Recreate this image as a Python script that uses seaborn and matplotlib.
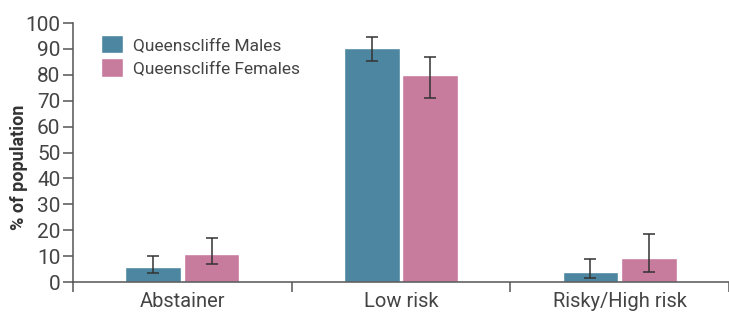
import matplotlib
matplotlib.use("Agg")
import matplotlib.pyplot as plt
import seaborn as sns
import numpy as np
import pandas as pd

categories = ["Abstainer", "Low risk", "Risky/High risk"]
groups = ["Queenscliffe Males", "Queenscliffe Females"]
males = [5.8, 90.3, 3.8]
females = [10.8, 80.0, 9.3]
males_lo = [3.5, 85.5, 1.5]
males_hi = [10.0, 94.5, 9.0]
females_lo = [7.0, 71.0, 4.0]
females_hi = [17.0, 87.0, 18.5]
colors = ["#4D86A0", "#C77B9D"]

sns.set_style("white")
plt.rcParams["font.family"] = ["Roboto", "DejaVu Sans"]

df = pd.DataFrame({
    "category": categories * 2,
    "group": [groups[0]] * 3 + [groups[1]] * 3,
    "value": males + females,
})

fig = plt.figure(figsize=(7.29, 3.13), dpi=100)
ax = fig.add_axes([0.1001, 0.099, 0.8999, 0.8275])

sns.barplot(data=df, x="category", y="value", hue="group", order=categories,
            hue_order=groups, palette=colors, width=0.536, gap=0.05,
            saturation=1, errorbar=None, ax=ax)

# error bars drawn by hand, the source gives ranges not raw data
lows = [males_lo, females_lo]
highs = [males_hi, females_hi]
for cont, lo, hi in zip(ax.containers, lows, highs):
    xs = [p.get_x() + p.get_width() / 2 for p in cont.patches]
    ys = [(l + h) / 2 for l, h in zip(lo, hi)]
    err = [(h - l) / 2 for l, h in zip(lo, hi)]
    ax.errorbar(xs, ys, yerr=err, fmt="none", ecolor="#333333",
                elinewidth=1.1, capsize=4.3, capthick=1.1)

ax.set_ylim(0, 100)
ax.set_xlim(-0.5, 2.485)
ax.set_yticks(np.arange(0, 101, 10))
ax.set_xticks([-0.5, 0.5, 1.5, 2.5])
ax.set_xticklabels([])
ax.set_xticks([0, 1, 2], minor=True)
ax.set_xticklabels(categories, minor=True, fontsize=14.5, color="#444444")
ax.tick_params(axis="x", which="minor", length=0, pad=7)
ax.tick_params(axis="x", which="major", length=7, width=1.1, color="#555555",
               direction="out", bottom=True)
ax.tick_params(axis="y", length=7, width=1.1, color="#555555", left=True,
               labelsize=15, labelcolor="#444444", pad=2)

for s in ["top", "right"]:
    ax.spines[s].set_visible(False)
for s in ["left", "bottom"]:
    ax.spines[s].set_color("#555555")
    ax.spines[s].set_linewidth(1.1)
ax.spines["left"].set_bounds(0, 100)

ax.set_xlabel("")
ax.set_ylabel("% of population", fontsize=13, fontweight="bold", color="#333333")
ax.yaxis.set_label_coords(-0.068, 0.444)

ax.legend(loc="upper left", bbox_to_anchor=(0.043, 0.954), frameon=False,
          fontsize=12.5, handlelength=1.26, handleheight=1.26,
          labelspacing=0.29, handletextpad=0.57, borderpad=0, borderaxespad=0,
          labelcolor="#444444")

fig.savefig("out.png", dpi=100)
